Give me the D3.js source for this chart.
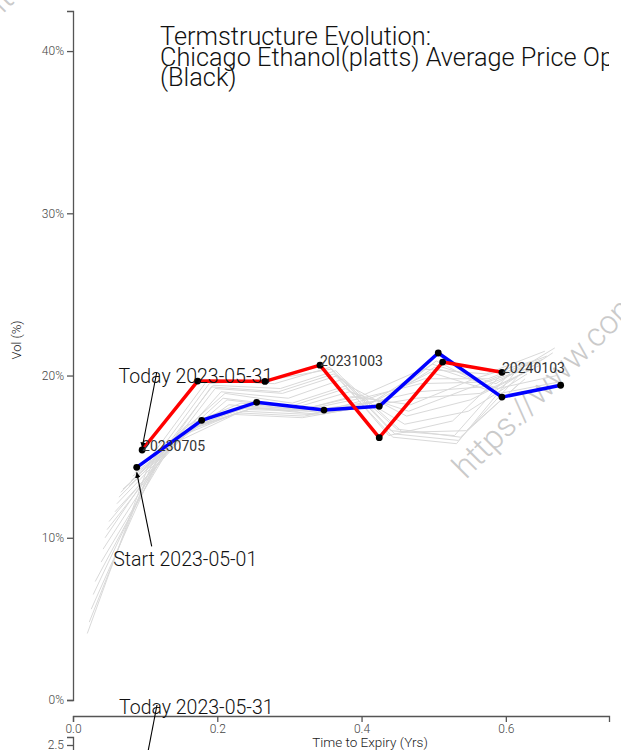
<!DOCTYPE html>
<html><head><meta charset="utf-8">
<script src="https://cdn.jsdelivr.net/npm/d3@7"></script>
<style>
html,body{margin:0;padding:0;background:#fff;}
svg{display:block;font-family:Roboto,"Noto Sans",sans-serif;}
</style></head>
<body>
<script>
// ---------- DATA ----------
const titleLines = ["Termstructure Evolution:", "Chicago Ethanol(platts) Average Price Options", "(Black)"];
const yTicks = [0, 10, 20, 30, 40];
const xTicks = [0.0, 0.2, 0.4, 0.6];
// Start 2023-05-01 (contracts Jun..Jan)
const startTTM = [0.0883, 0.1784, 0.2546, 0.3479, 0.4245, 0.5063, 0.5946, 0.6760];
const startVol = [14.34, 17.24, 18.35, 17.87, 18.10, 21.39, 18.67, 19.40];
// Today 2023-05-31 (contracts Jul..Jan)
const todayTTM = [0.0958, 0.1728, 0.2661, 0.3424, 0.4245, 0.5124, 0.5946];
const todayVol = [15.41, 19.66, 19.64, 20.64, 16.17, 20.83, 20.20];
const todayLabels = ["20230705", "", "", "20231003", "", "", "20240103"];
// intermediate days (calendar days after start) and their vols (Jun..Jan)
const greyDays = [1, 2, 3, 4, 7, 8, 9, 10, 11, 14, 15, 16, 17, 18, 21, 22, 23, 24, 25];
const greyVols = [
  [14.0, 17.0, 18.2, 17.7, 18.1, 20.9, 18.9, 19.6],
  [13.8, 16.9, 18.0, 17.6, 18.2, 20.5, 19.2, 20.0],
  [13.5, 17.1, 18.1, 17.9, 18.4, 20.7, 19.5, 21.7],
  [13.2, 16.8, 17.9, 17.8, 18.3, 20.2, 19.0, 21.4],
  [13.0, 16.6, 17.8, 17.6, 18.5, 19.8, 19.8, 21.2],
  [12.8, 16.9, 18.3, 18.0, 18.8, 20.4, 20.1, 21.5],
  [12.5, 16.5, 18.0, 17.9, 18.6, 19.5, 19.6, 21.0],
  [12.1, 16.3, 17.7, 17.5, 18.2, 19.0, 19.3, 20.8],
  [11.6, 16.0, 17.6, 17.4, 18.0, 18.6, 18.9, 20.6],
  [11.0, 15.8, 18.2, 17.8, 18.7, 18.2, 19.8, 20.9],
  [10.5, 15.6, 18.5, 18.0, 19.0, 17.8, 19.3, 20.5],
  [10.0, 15.9, 18.9, 18.3, 19.4, 17.5, 18.5, 20.3],
  [9.3, 15.5, 18.6, 18.1, 19.2, 17.0, 17.8, 20.1],
  [8.5, 15.2, 19.0, 18.6, 19.8, 16.5, 16.6, 19.8],
  [7.3, 14.8, 19.2, 18.9, 20.0, 16.7, 16.2, 19.5],
  [6.5, 15.0, 19.4, 19.2, 20.3, 16.4, 16.0, 19.9],
  [5.6, 14.6, 19.3, 19.0, 20.1, 16.2, 15.8, 20.2],
  [4.8, 14.9, 19.5, 19.8, 20.4, 16.6, 16.3, 20.4],
  [4.1, 15.1, 19.7, 19.5, 20.5, 16.3, 17.2, 20.6]
];
const startLabel = "Start 2023-05-01";
const todayLabel = "Today 2023-05-31";
const sub2Ticks = [0.5, 1.0, 1.5, 2.0, 2.5];
const watermark = "https://www.commodities-vol.com";

// ---------- CHART ----------
const W = 621, H = 750;
const svg = d3.select("body").append("svg").attr("width", W).attr("height", H);

const x = d3.scaleLinear().domain([0, 0.743]).range([73, 609]);
const y = d3.scaleLinear().domain([0, 42.47]).range([700, 11]);

// watermarks
[[-5, 22], [466, 480]].forEach(p => {
  svg.append("text").attr("transform", `translate(${p[0]},${p[1]}) rotate(-45)`)
    .attr("font-size", 33).attr("font-weight", 300).attr("fill", "#cacaca")
    .text(watermark);
});

// axes
const axisStyle = g => {
  g.select(".domain").attr("stroke", "#555").attr("stroke-width", 1.3);
  g.selectAll(".tick line").attr("stroke", "#555").attr("stroke-width", 1.3);
  g.selectAll(".tick text").attr("fill", "#444").attr("font-size", 12)
    .attr("font-family", "Roboto").attr("font-weight", 300);
};
svg.append("g").attr("transform", "translate(73,0)")
  .call(d3.axisLeft(y).tickValues(yTicks).tickFormat(d => d + "%").tickSize(6).tickPadding(3))
  .call(axisStyle);
svg.append("g").attr("transform", "translate(0,716)")
  .call(d3.axisBottom(x).tickValues(xTicks).tickFormat(d3.format(".1f")).tickSize(6).tickPadding(2))
  .call(axisStyle);

svg.append("text").attr("transform", "translate(21,340) rotate(-90)")
  .attr("text-anchor", "middle").attr("font-size", 13).attr("font-weight", 300).attr("fill", "#222")
  .text("Vol (%)");
svg.append("text").attr("x", 370).attr("y", 747)
  .attr("text-anchor", "middle").attr("font-size", 13.5).attr("font-weight", 300).attr("fill", "#222")
  .text("Time to Expiry (Yrs)");

// second (cut-off) panel
const y2 = d3.scaleLinear().domain([0, 2.7]).range([845, 737]);
svg.append("g").attr("transform", "translate(73,0)")
  .call(d3.axisLeft(y2).tickValues(sub2Ticks).tickFormat(d3.format(".1f")).tickSize(6).tickPadding(3))
  .call(axisStyle);

// title
const defs = svg.append("defs");
defs.append("clipPath").attr("id", "tclip").append("rect").attr("x", 0).attr("y", 0).attr("width", 609).attr("height", 120);
const title = svg.append("text").attr("clip-path", "url(#tclip)")
  .attr("font-size", 25.3).attr("font-weight", 300).attr("fill", "#111");
titleLines.forEach((t, i) => {
  title.append("tspan").attr("x", 160).attr("y", 45 + i * 20.5).text(t);
});

// grey history lines
const line = d3.line().x(d => x(d[0])).y(d => y(d[1]));
const gGrey = svg.append("g");
greyDays.forEach((day, i) => {
  const pts = greyVols[i].map((v, j) => [startTTM[j] - day / 365, v]);
  gGrey.append("path").attr("d", line(pts)).attr("fill", "none")
    .attr("stroke", "#d9d9d9").attr("stroke-width", 1);
});

// blue start curve, red today curve
const startPts = startTTM.map((t, i) => [t, startVol[i]]);
const todayPts = todayTTM.map((t, i) => [t, todayVol[i]]);
svg.append("path").attr("d", line(startPts)).attr("fill", "none")
  .attr("stroke", "#0000ff").attr("stroke-width", 3.5).attr("stroke-linejoin", "round");
svg.append("path").attr("d", line(todayPts)).attr("fill", "none")
  .attr("stroke", "#ff0000").attr("stroke-width", 3.5).attr("stroke-linejoin", "round");

svg.selectAll("circle.s").data(startPts).enter().append("circle")
  .attr("cx", d => x(d[0])).attr("cy", d => y(d[1])).attr("r", 3.4).attr("fill", "#000");
svg.selectAll("circle.t").data(todayPts).enter().append("circle")
  .attr("cx", d => x(d[0])).attr("cy", d => y(d[1])).attr("r", 3.4).attr("fill", "#000");

// contract labels
todayPts.forEach((d, i) => {
  if (!todayLabels[i]) return;
  svg.append("text").attr("x", x(d[0])).attr("y", y(d[1]) + 1)
    .attr("font-size", 14).attr("font-weight", 400).attr("fill", "#333").text(todayLabels[i]);
});

// annotations
defs.append("marker").attr("id", "arr").attr("viewBox", "0 0 10 10").attr("refX", 10).attr("refY", 5)
  .attr("markerWidth", 5).attr("markerHeight", 5).attr("orient", "auto")
  .append("path").attr("d", "M0,0 L10,5 L0,10 z").attr("fill", "#000");

const ann = (px, py, dx1, dy1, tx, ty, label) => {
  svg.append("line").attr("x1", px + dx1).attr("y1", py + dy1).attr("x2", px).attr("y2", py)
    .attr("stroke", "#000").attr("stroke-width", 1.1).attr("marker-end", "url(#arr)");
  svg.append("text").attr("x", px + tx).attr("y", py + ty)
    .attr("font-size", 19.5).attr("font-weight", 300).attr("fill", "#111").text(label);
};
const r0 = todayPts[0];
ann(x(r0[0]), y(r0[1]) - 2, 14.5, -75, -23.5, -65, todayLabel);
const b0 = startPts[0];
ann(x(b0[0]), y(b0[1]) + 5, 15, 74, -23.5, 94, startLabel);

// cut-off second panel annotation
svg.append("line").attr("x1", 157).attr("y1", 705).attr("x2", 146).attr("y2", 762)
  .attr("stroke", "#000").attr("stroke-width", 1.1);
svg.append("text").attr("x", 119).attr("y", 714)
  .attr("font-size", 19.5).attr("font-weight", 300).attr("fill", "#111").text(todayLabel);
</script>
</body></html>
